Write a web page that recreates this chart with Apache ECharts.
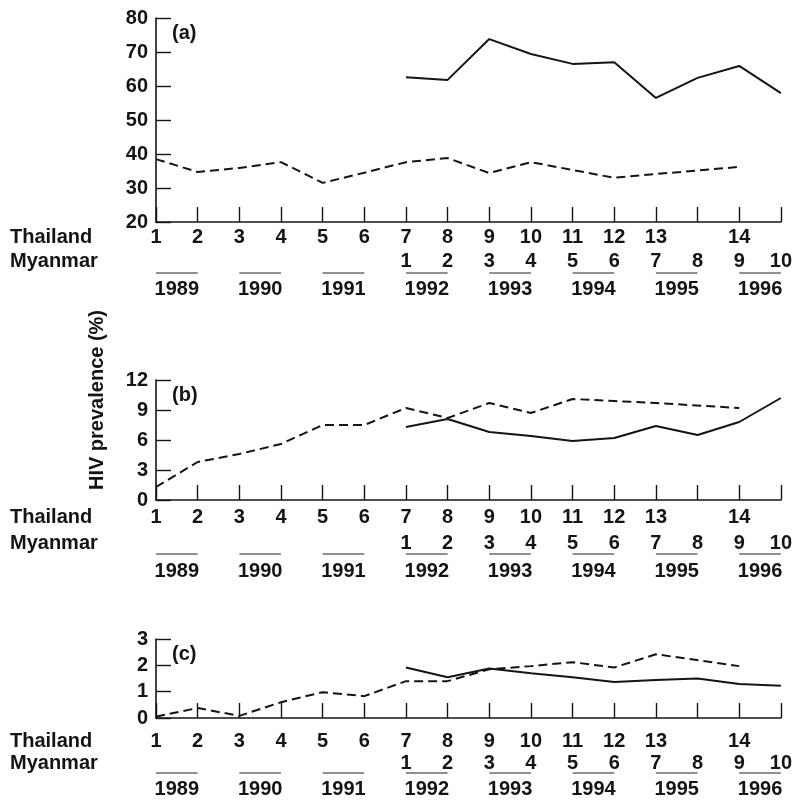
<!DOCTYPE html>
<html>
<head>
<meta charset="utf-8">
<script src="https://cdn.jsdelivr.net/npm/echarts@6/dist/echarts.min.js"></script>
<style>html,body{margin:0;padding:0;background:#fff}#c{width:795px;height:801px}</style>
</head>
<body>
<div id="c"></div>
<script>
// Timeline slots (16 survey positions)
const slots = ['s1','s2','s3','s4','s5','s6','s7','s8','s9','s10','s11','s12','s13','s14','s15','s16'];
const thaiRounds = ['1','2','3','4','5','6','7','8','9','10','11','12','13','','14',''];
const myanmarRounds = ['','','','','','','1','2','3','4','5','6','7','8','9','10'];
const years = ['1989','1990','1991','1992','1993','1994','1995','1996'];

// Panel (a)
const thaiA = [38.5,34.7,35.9,37.6,31.5,34.5,37.6,38.8,34.4,37.6,35.3,33.0,34.1,null,36.2,null];
const myanA = [null,null,null,null,null,null,62.6,61.8,73.8,69.4,66.5,67.0,56.5,62.4,65.9,57.9];
// Panel (b)
const thaiB = [1.3,3.8,4.6,5.6,7.5,7.5,9.2,8.2,9.7,8.7,10.1,9.9,9.7,null,9.2,null];
const myanB = [null,null,null,null,null,null,7.3,8.1,6.8,6.4,5.9,6.2,7.4,6.5,7.8,10.2];
// Panel (c)
const thaiC = [0.05,0.38,0.08,0.6,0.98,0.83,1.4,1.4,1.85,1.97,2.12,1.92,2.42,null,1.97,null];
const myanC = [null,null,null,null,null,null,1.92,1.55,1.88,1.7,1.55,1.37,1.44,1.5,1.29,1.22];

const panelLabels = ['(a)','(b)','(c)'];
const yMins = [20,0,0], yMaxs = [80,12,3], yIntervals = [10,3,1];
const thaiSeries = [thaiA, thaiB, thaiC];
const myanSeries = [myanA, myanB, myanC];

// layout
const FONT = 'Liberation Sans, Arial, sans-serif';
const FS = 20;
const FW = 'bold';
const INK = '#141414';
const layout = [
  {top:18, height:204, tMargin:5, mOff:24, uOff:51, yOff:52},
  {top:380, height:120, tMargin:7, mOff:26, uOff:54, yOff:54},
  {top:639, height:79, tMargin:13, mOff:22, uOff:55, yOff:48}
];

const grid=[], xAxis=[], yAxis=[], series=[], graphic=[];
layout.forEach((L,i)=>{
  grid.push({left:156, right:12, top:L.top, height:L.height, containLabel:false});
  const base = {gridIndex:i, position:'bottom'};
  const lbl = {color:INK, fontFamily:FONT, fontSize:FS, fontWeight:FW};
  xAxis.push(Object.assign({}, base, {
    type:'category', data:slots, boundaryGap:false,
    axisLine:{lineStyle:{color:INK, width:1.6}},
    axisTick:{inside:true, length:15, interval:0, lineStyle:{color:INK, width:1.4}},
    axisLabel:Object.assign({interval:0, margin:L.tMargin, formatter:(v,idx)=>thaiRounds[idx]}, lbl),
    splitLine:{show:false}
  }));
  xAxis.push(Object.assign({}, base, {
    type:'category', data:slots, boundaryGap:false, offset:L.mOff,
    axisLine:{show:false}, axisTick:{show:false},
    axisLabel:Object.assign({interval:0, margin:L.tMargin, formatter:(v,idx)=>myanmarRounds[idx]}, lbl),
    splitLine:{show:false}
  }));
  xAxis.push(Object.assign({}, base, {
    type:'value', min:0, max:slots.length-1, interval:0.5, offset:L.yOff,
    axisLine:{show:false}, axisTick:{show:false}, splitLine:{show:false},
    axisLabel:Object.assign({margin:L.tMargin, showMinLabel:true, showMaxLabel:true,
      formatter:(v)=>{const k=Math.round(v*2); return (k%4===1)?years[(k-1)/4]:'';}}, lbl)
  }));
  yAxis.push({
    gridIndex:i, type:'value', min:yMins[i], max:yMaxs[i], interval:yIntervals[i],
    axisLine:{show:true, lineStyle:{color:INK, width:1.6}},
    axisTick:{show:true, inside:true, length:15, lineStyle:{color:INK, width:1.4}},
    axisLabel:Object.assign({margin:8}, lbl),
    splitLine:{show:false}
  });
  series.push({
    type:'line', xAxisIndex:3*i, yAxisIndex:i, data:thaiSeries[i], connectNulls:true,
    showSymbol:false, symbol:'none', silent:true, animation:false,
    lineStyle:{color:INK, width:2, type:[9,5]}
  });
  series.push({
    type:'line', xAxisIndex:3*i, yAxisIndex:i, data:myanSeries[i], connectNulls:false,
    showSymbol:false, symbol:'none', silent:true, animation:false,
    lineStyle:{color:INK, width:2}
  });
  const uOff = L.uOff;
  series.push({
    type:'custom', xAxisIndex:3*i+2, yAxisIndex:i, silent:true, animation:false, clip:false,
    data: years.map((y,k)=>[2*k, yMins[i], 2*k+1]),
    renderItem:(params, api)=>{
      const a = api.coord([api.value(0), api.value(1)]);
      const b = api.coord([api.value(2), api.value(1)]);
      return {type:'line', shape:{x1:a[0], y1:a[1]+uOff, x2:b[0], y2:b[1]+uOff},
        style:{stroke:'#222', lineWidth:1.1}};
    }
  });
  const axisY = L.top + L.height;
  const font = `${FW} ${FS}px ${FONT}`;
  graphic.push({type:'text', left:10, top:axisY + L.tMargin, style:{text:'Thailand', font, fill:INK}});
  graphic.push({type:'text', left:10, top:axisY + L.tMargin + L.mOff, style:{text:'Myanmar', font, fill:INK}});
  graphic.push({type:'text', left:172, top:L.top + 5, style:{text:panelLabels[i], font, fill:INK}});
});
graphic.push({type:'text', x:97, y:400, rotation:Math.PI/2,
  style:{text:'HIV prevalence (%)', font:`${FW} ${FS}px ${FONT}`, fill:INK, align:'center', verticalAlign:'middle'}});

const chart = echarts.init(document.getElementById('c'), null, {renderer:'canvas'});
chart.setOption({backgroundColor:'#ffffff', animation:false, grid, xAxis, yAxis, series, graphic});
</script>
</body>
</html>
